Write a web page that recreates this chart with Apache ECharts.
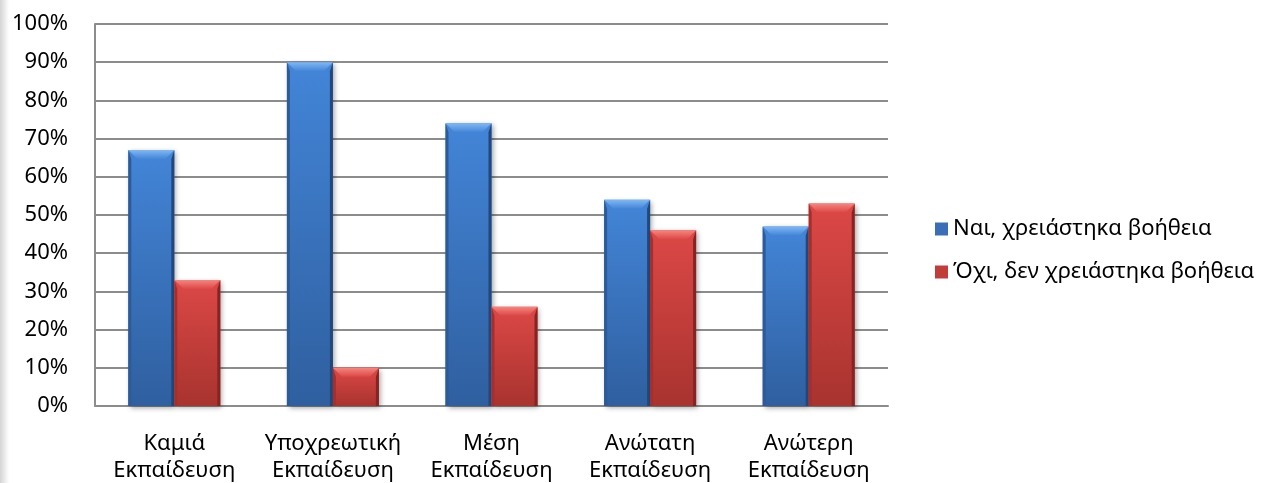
<!DOCTYPE html>
<html>
<head>
<meta charset="utf-8">
<script src="https://cdn.jsdelivr.net/npm/echarts@6/dist/echarts.min.js"></script>
<style>
  html, body { margin: 0; padding: 0; background: #fff; }
  #chart { width: 1271px; height: 483px; }
</style>
</head>
<body>
<div id="chart"></div>
<script>
// Education level categories and the share of respondents per answer
const categories = ['Καμιά\nΕκπαίδευση', 'Υποχρεωτική\nΕκπαίδευση', 'Μέση\nΕκπαίδευση', 'Ανώτατη\nΕκπαίδευση', 'Ανώτερη\nΕκπαίδευση'];
const seriesNames = ['Ναι, χρειάστηκα βοήθεια', 'Όχι, δεν χρειάστηκα βοήθεια'];
const yesValues = [67, 90, 74, 54, 47];
const noValues = [33, 10, 26, 46, 53];

const FONT = 'Noto Sans';

const palettes = [
  { top: '#4385d8', bottom: '#2f5f9f', bevel: '#80b8f4', left: '#2d5b99', right: '#22477c', legend: '#3a6fb8' },
  { top: '#dc4846', bottom: '#a8332f', bevel: '#f7857f', left: '#a52f2c', right: '#872423', legend: '#c23d3a' }
];

// Bevelled bar drawn from the category/value scales
function bevelBar(seriesIdx) {
  const pal = palettes[seriesIdx];
  return function (params, api) {
    const idx = api.value(0);
    const v = api.value(1);
    const base = api.coord([idx, 0]);
    const top = api.coord([idx, v]);
    const band = api.size([1, 0])[0];
    const w = band * 0.29;
    const x0 = seriesIdx === 0 ? base[0] - w : base[0];
    const x1 = x0 + w;
    const y0 = top[1];
    const y1 = base[1];
    const h = y1 - y0;
    const b = Math.min(9, h / 2);
    const sb = 3;
    return {
      type: 'group',
      children: [
        {
          type: 'rect',
          shape: { x: x0, y: y0, width: w, height: h },
          style: {
            fill: new echarts.graphic.LinearGradient(0, 0, 0, 1, [
              { offset: 0, color: pal.top },
              { offset: 1, color: pal.bottom }
            ]),
            shadowBlur: 5,
            shadowOffsetX: 2,
            shadowOffsetY: 2,
            shadowColor: 'rgba(0,0,0,0.35)'
          }
        },
        {
          type: 'polygon',
          shape: { points: [[x0, y0], [x0 + sb, y0 + b], [x0 + sb, y1], [x0, y1]] },
          style: { fill: pal.left }
        },
        {
          type: 'polygon',
          shape: { points: [[x1, y0], [x1 - sb, y0 + b], [x1 - sb, y1], [x1, y1]] },
          style: { fill: pal.right }
        },
        {
          type: 'polygon',
          shape: { points: [[x0, y0], [x1, y0], [x1 - b, y0 + b], [x0 + b, y0 + b]] },
          style: {
            fill: new echarts.graphic.LinearGradient(0, 0, 0, 1, [
              { offset: 0, color: pal.bevel },
              { offset: 1, color: pal.top }
            ])
          }
        }
      ]
    };
  };
}

const chart = echarts.init(document.getElementById('chart'), null, { renderer: 'canvas' });

chart.setOption({
  animation: false,
  backgroundColor: '#ffffff',
  graphic: [
    {
      type: 'rect',
      left: 0, top: 0,
      shape: { width: 9, height: 483 },
      style: {
        fill: new echarts.graphic.LinearGradient(0, 0, 1, 0, [
          { offset: 0, color: '#d4d4d4' },
          { offset: 1, color: '#ffffff' }
        ])
      },
      z: -1
    }
  ],
  grid: { left: 95, right: 383, top: 24, bottom: 77, containLabel: false, outerBoundsMode: 'none' },
  legend: {
    orient: 'vertical',
    left: 930,
    top: 213,
    itemWidth: 13,
    itemHeight: 13,
    itemGap: 21,
    icon: 'rect',
    textStyle: { fontFamily: FONT, fontSize: 22, color: '#000' },
    data: [
      { name: seriesNames[0], itemStyle: { color: palettes[0].legend } },
      { name: seriesNames[1], itemStyle: { color: palettes[1].legend } }
    ]
  },
  xAxis: {
    type: 'category',
    data: categories,
    axisLine: { show: true, lineStyle: { color: '#8c8c8c', width: 2 } },
    axisTick: { show: false },
    axisLabel: {
      fontFamily: FONT,
      fontSize: 22,
      color: '#000',
      lineHeight: 27,
      margin: 24,
      interval: 0
    }
  },
  yAxis: {
    type: 'value',
    min: 0,
    max: 100,
    interval: 10,
    axisLine: { show: true, lineStyle: { color: '#8c8c8c', width: 2 } },
    axisTick: { show: false },
    splitLine: { show: true, lineStyle: { color: '#8c8c8c', width: 2 } },
    axisLabel: {
      formatter: '{value}%',
      fontFamily: FONT,
      fontSize: 22,
      color: '#000',
      margin: 27
    }
  },
  series: [
    {
      name: seriesNames[0],
      type: 'custom',
      renderItem: bevelBar(0),
      itemStyle: { color: palettes[0].legend },
      encode: { x: 0, y: 1 },
      data: yesValues.map((v, i) => [i, v]),
      z: 3
    },
    {
      name: seriesNames[1],
      type: 'custom',
      renderItem: bevelBar(1),
      itemStyle: { color: palettes[1].legend },
      encode: { x: 0, y: 1 },
      data: noValues.map((v, i) => [i, v]),
      z: 3
    }
  ]
});
</script>
</body>
</html>
